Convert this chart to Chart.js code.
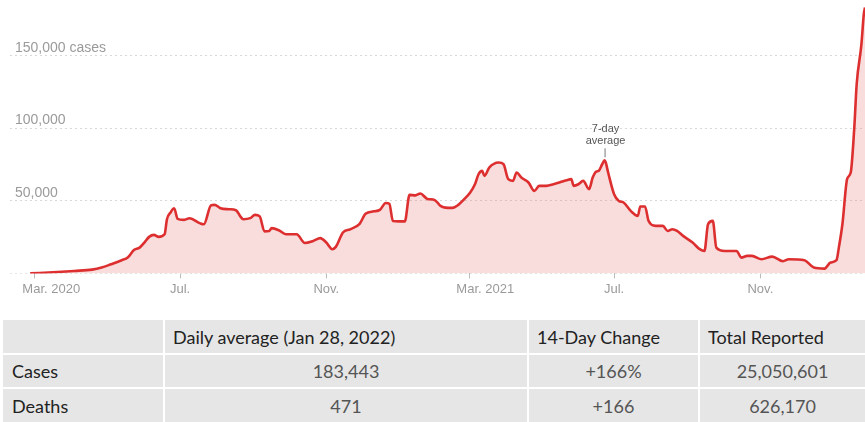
<!DOCTYPE html>
<html>
<head>
<meta charset="utf-8">
<script src="https://cdn.jsdelivr.net/npm/chart.js@4/dist/chart.umd.min.js"></script>
<style>
  html, body { margin: 0; padding: 0; background: #fff; width: 865px; height: 422px; overflow: hidden; }
  #wrap { position: absolute; left: 0; top: 0; width: 865px; height: 300px; }
  #tbl {
    position: absolute; left: 3px; top: 320px; width: 862px;
    display: grid;
    grid-template-columns: 160px 362px 169px 165px;
    grid-template-rows: 33px 32px 33px;
    column-gap: 2px; row-gap: 2px;
    font-family: Lato, "Liberation Sans", sans-serif; font-size: 18px;
  }
  #tbl div { background: #e6e6e6; display: flex; align-items: center; white-space: nowrap; }
  #tbl .hd { color: #222; padding-left: 8px; }
  #tbl .lb { color: #222; padding-left: 9px; }
  #tbl .vl { color: #555; justify-content: center; }
</style>
</head>
<body>
<div id="wrap"><canvas id="c" width="865" height="300"></canvas></div>
<div id="tbl"></div>
<script>
// ---- data ----
const dates = [
  '2020-02-26','2020-03-20','2020-04-03','2020-04-18','2020-04-26','2020-05-04','2020-05-13','2020-05-18',
  '2020-05-23','2020-05-28','2020-06-01','2020-06-05','2020-06-09','2020-06-13','2020-06-18','2020-06-20',
  '2020-06-23','2020-06-26','2020-06-29','2020-07-04','2020-07-09','2020-07-18','2020-07-21','2020-07-27',
  '2020-07-30','2020-08-04','2020-08-11','2020-08-17','2020-08-21','2020-08-23','2020-08-29','2020-09-02',
  '2020-09-06','2020-09-10','2020-09-14','2020-09-16','2020-09-22','2020-09-28','2020-10-07','2020-10-14',
  '2020-10-21','2020-10-27','2020-11-01','2020-11-06','2020-11-09','2020-11-15','2020-11-21','2020-11-29',
  '2020-12-04','2020-12-11','2020-12-16','2020-12-21','2020-12-24','2020-12-27','2021-01-01','2021-01-06',
  '2021-01-10','2021-01-15','2021-01-19','2021-01-25','2021-01-31','2021-02-05','2021-02-09','2021-02-15',
  '2021-02-20','2021-02-25','2021-03-02','2021-03-06','2021-03-09','2021-03-12','2021-03-14','2021-03-18',
  '2021-03-26','2021-03-30','2021-04-03','2021-04-07','2021-04-10','2021-04-14','2021-04-20','2021-04-25',
  '2021-04-29','2021-05-05','2021-05-11','2021-05-16','2021-05-22','2021-05-26','2021-05-28','2021-06-01',
  '2021-06-05','2021-06-10','2021-06-13','2021-06-16','2021-06-18','2021-06-21','2021-06-23','2021-06-24',
  '2021-06-26','2021-07-01','2021-07-05','2021-07-09','2021-07-15','2021-07-21','2021-07-23','2021-07-27',
  '2021-07-30','2021-08-05','2021-08-11','2021-08-15','2021-08-19','2021-08-23','2021-08-28','2021-09-05',
  '2021-09-11','2021-09-15','2021-09-18','2021-09-22','2021-09-25','2021-10-02','2021-10-06','2021-10-12',
  '2021-10-16','2021-10-21','2021-10-25','2021-11-02','2021-11-11','2021-11-20','2021-11-25','2021-12-08',
  '2021-12-16','2021-12-25','2021-12-30','2022-01-04','2022-01-06','2022-01-09','2022-01-13','2022-01-16',
  '2022-01-19','2022-01-21','2022-01-25','2022-01-27','2022-01-28'
];
const cases = [
  0, 1000, 1700, 2600, 4000, 6300, 9100, 10900,
  16000, 17800, 21300, 25200, 26600, 25200, 27000, 37400,
  42000, 44900, 37600, 36900, 38000, 34500, 33900, 46900,
  47300, 45000, 44300, 43600, 39000, 37400, 38100, 40400,
  39300, 29000, 29300, 31200, 29800, 27000, 27000, 21000,
  22400, 24300, 21300, 16700, 18300, 28200, 30400, 34200,
  41100, 42800, 43800, 48600, 48000, 36200, 35900, 35900,
  54200, 53800, 55100, 51400, 50700, 46600, 45400, 45200,
  47300, 51200, 55800, 61500, 68400, 70700, 67300, 73000,
  76500, 75300, 65000, 63800, 69600, 66100, 62700, 56900,
  60400, 60400, 61500, 62700, 64300, 65000, 60400, 61500,
  63800, 58100, 66100, 70200, 70700, 75300, 78000, 76500,
  69600, 54600, 50000, 48900, 43100, 39700, 46200, 46200,
  36200, 32800, 32800, 29300, 30500, 29300, 25900, 21300,
  16700, 15500, 33900, 36200, 17800, 15500, 15500, 15500,
  10900, 12100, 12100, 9800, 11600, 8400, 9800, 9100,
  4000, 3300, 7500, 9100, 17800, 33900, 65200, 69600,
  100600, 130500, 158100, 178800, 183443
];
const xTickDates  = ['2020-03-01','2020-07-01','2020-11-01','2021-03-01','2021-07-01','2021-11-01'];
const xTickLabels = ['Mar. 2020','Jul.','Nov.','Mar. 2021','Jul.','Nov.'];
const yTickValues = [0, 50000, 100000, 150000];
const yTickLabels = ['', '50,000', '100,000', '150,000 cases'];
const annotationDate = '2021-06-23';
const annotationLines = ['7-day', 'average'];

const tableHeader = ['', 'Daily average (Jan 28, 2022)', '14-Day Change', 'Total Reported'];
const rowLabels   = ['Cases', 'Deaths'];
const dailyAvg    = ['183,443', '471'];
const change14    = ['+166%', '+166'];
const totals      = ['25,050,601', '626,170'];

// ---- helpers ----
const DAY0 = Date.parse('2020-03-01');
const dayIndex = s => Math.round((Date.parse(s) - DAY0) / 86400000);
const points = dates.map((d, i) => ({ x: dayIndex(d), y: cases[i] }));
const xTickDays = xTickDates.map(dayIndex);
const NB = '\u00A0';

// ---- table ----
const tbl = document.getElementById('tbl');
function cell(text, cls) { const d = document.createElement('div'); d.className = cls; d.textContent = text; tbl.appendChild(d); }
tableHeader.forEach(t => cell(t, 'hd'));
rowLabels.forEach((r, i) => {
  cell(r, 'lb'); cell(dailyAvg[i], 'vl'); cell(change14[i], 'vl'); cell(totals[i], 'vl');
});

// ---- annotation plugin ----
const annot = {
  id: 'annot',
  afterDatasetsDraw(chart) {
    const xs = chart.scales.x, ys = chart.scales.y;
    const i = dates.indexOf(annotationDate);
    const px = xs.getPixelForValue(dayIndex(annotationDate));
    const py = ys.getPixelForValue(cases[i]);
    const ctx = chart.ctx;
    ctx.save();
    ctx.strokeStyle = '#777'; ctx.lineWidth = 1;
    ctx.beginPath(); ctx.moveTo(px + 0.5, py - 12); ctx.lineTo(px + 0.5, py - 3); ctx.stroke();
    ctx.fillStyle = '#555';
    ctx.font = '11px "Liberation Sans", Arial, sans-serif';
    ctx.textAlign = 'center'; ctx.textBaseline = 'alphabetic';
    ctx.fillText(annotationLines[0], px + 1, py - 28);
    ctx.fillText(annotationLines[1], px + 1, py - 16);
    ctx.restore();
  }
};

new Chart(document.getElementById('c'), {
  type: 'line',
  data: {
    datasets: [{
      data: points,
      borderColor: '#dd2f2f',
      borderWidth: 2.6,
      backgroundColor: 'rgba(232,120,120,0.25)',
      fill: 'origin',
      pointRadius: 0,
      tension: 0.25,
      cubicInterpolationMode: 'monotone'
    }]
  },
  options: {
    responsive: false,
    animation: false,
    layout: { padding: { left: 0, right: 0, top: 0, bottom: 0 } },
    plugins: { legend: { display: false }, tooltip: { enabled: false } },
    scales: {
      x: {
        type: 'linear',
        min: dayIndex('2020-02-09'),
        max: dayIndex('2022-01-28'),
        afterBuildTicks: s => { s.ticks = xTickDays.map(v => ({ value: v })); },
        afterFit: s => { s.paddingLeft = 0; s.paddingRight = 0; },
        ticks: {
          autoSkip: false, maxRotation: 0, padding: 3,
          color: '#9a9a9a',
          font: { family: '"Liberation Sans", Arial, sans-serif', size: 13 },
          callback: (v) => {
            const k = xTickDays.indexOf(v);
            const lab = xTickLabels[k];
            const sp = lab.indexOf(' ');
            return sp > 0 ? NB.repeat(9) + lab : lab;
          }
        },
        grid: { drawOnChartArea: false, drawTicks: true, tickLength: 5, color: '#bbb' },
        border: { display: false }
      },
      y: {
        min: 0, max: 188600,
        afterBuildTicks: s => { s.ticks = yTickValues.map(v => ({ value: v })); },
        afterFit: s => { s.paddingTop = 0; s.paddingBottom = 0; },
        ticks: {
          mirror: true, padding: 5, labelOffset: -8,
          color: '#9a9a9a',
          font: { family: '"Liberation Sans", Arial, sans-serif', size: 14 },
          callback: (v) => yTickLabels[yTickValues.indexOf(v)]
        },
        grid: {
          drawTicks: false,
          color: c => c.tick && c.tick.value === 0 ? '#e6e6e6' : '#d8d8d8'
        },
        border: { display: false, dash: [2, 3] }
      }
    }
  },
  plugins: [annot]
});
</script>
</body>
</html>
